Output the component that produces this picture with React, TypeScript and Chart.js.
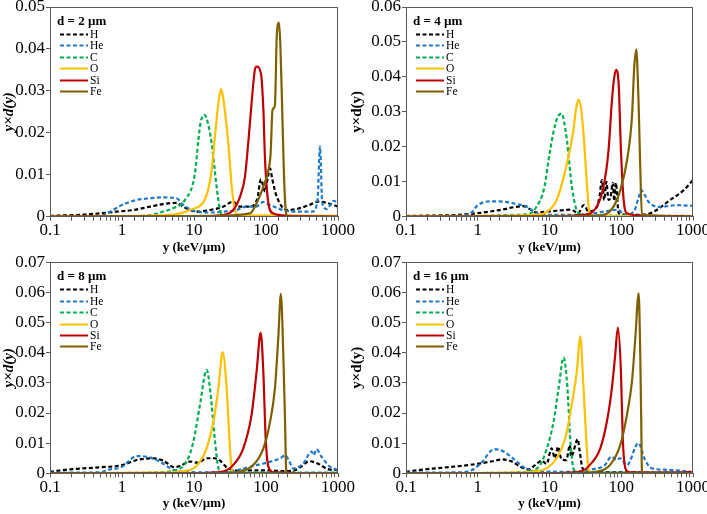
import React, { useEffect, useRef } from 'react';
import { Chart, registerables } from 'chart.js';
Chart.register(...registerables);

type Pt = [number, number];

const SERIES_NAMES = ['H', 'He', 'C', 'O', 'Si', 'Fe'];
const SERIES_COLORS = ['#000000', '#1f78c8', '#00b050', '#ffc000', '#c00000', '#7f6000'];
const SERIES_DASHED = [true, true, true, false, false, false];
const X_TICK_LABELS = ['0.1', '1', '10', '100', '1000'];
const PANEL_TITLES = ['d = 2 µm', 'd = 4 µm', 'd = 8 µm', 'd = 16 µm'];
const PANEL_YMAX = [0.05, 0.06, 0.07, 0.07];

// ---- d = 2 µm ----
const H_2: Pt[] = [[0.1,0.0002],[0.3,0.0005],[0.84,0.0012],[1.44,0.0016],[2.45,0.0024],[3.7,0.003],[5.7,0.0033],[7.1,0.0024],[10.9,0.0012],[16.7,0.0016],[25.5,0.0024],[35,0.0036],[43,0.0024],[59,0.0024],[76,0.0044],[85,0.0089],[97,0.006],[105,0.009],[114,0.0115],[122,0.009],[141,0.0048],[194,0.0016],[264,0.0018],[400,0.0028],[533,0.0036],[700,0.0033],[1000,0.0024]];
const He_2: Pt[] = [[0.1,0],[0.49,0.0002],[0.68,0.0012],[1,0.0028],[1.6,0.004],[2.45,0.0044],[3.7,0.0046],[5.7,0.0044],[7.1,0.0028],[10.9,0.0012],[16.7,0.001],[25.5,0.0012],[39,0.0016],[54,0.0024],[73,0.0024],[91,0.0035],[113,0.0028],[173,0.0016],[264,0.0012],[440,0.0012],[520,0.004],[562,0.0167],[600,0.004],[640,0.0022],[700,0.0018],[860,0.0038],[1000,0.0032]];
const C_2: Pt[] = [[0.1,0],[1,0.0001],[2.45,0.0004],[3.7,0.0012],[5.1,0.002],[7.5,0.004],[10.3,0.0103],[11.5,0.0183],[12.3,0.0223],[14,0.0243],[15.5,0.0225],[17.6,0.0175],[20.6,0.0072],[23,0.0016],[26,0.0003],[100,0.0001],[1000,0.0001]];
const O_2: Pt[] = [[0.1,0],[1,0.0001],[3,0.0003],[5.7,0.0006],[8.8,0.0016],[13.5,0.0035],[15.5,0.006],[17.6,0.0111],[19.5,0.019],[21.8,0.027],[23.7,0.0304],[25,0.029],[26.8,0.0254],[30,0.0175],[33.4,0.0072],[37,0.0016],[42,0.0003],[1000,0.0002]];
const Si_2: Pt[] = [[0.1,0],[10,0.0001],[25,0.0004],[35,0.0016],[43.6,0.0048],[51,0.0095],[56.6,0.0175],[63,0.027],[70,0.035],[74,0.0358],[85,0.0342],[92,0.0254],[97,0.0135],[108,0.0032],[125,0.0008],[200,0.0002],[500,0.0001],[1000,0]];
const Fe_2: Pt[] = [[0.1,0],[20,0.0002],[59.9,0.0008],[74,0.0032],[92,0.0072],[108,0.0111],[116,0.0151],[123,0.0254],[133,0.0266],[141,0.0429],[151.5,0.0463],[158,0.0413],[168,0.0254],[178,0.0095],[188,0.0016],[200,0],[1000,0]];

// ---- d = 4 µm ----
const H_4: Pt[] = [[0.1,0.0002],[0.5,0.0005],[1,0.001],[2,0.0019],[4.3,0.003],[5.5,0.002],[6.5,0.0012],[10,0.0015],[20,0.002],[25,0.001],[30,0.0033],[35,0.0015],[45,0.0025],[50,0.006],[53.7,0.0105],[58,0.0048],[62,0.01],[66.5,0.0048],[71,0.0057],[76,0.0097],[80,0.0045],[84,0.0097],[92,0.001],[150,0.0005],[254,0.001],[483,0.0048],[741,0.0076],[1000,0.0105]];
const He_4: Pt[] = [[0.1,0.0002],[0.5,0.0003],[0.8,0.001],[1,0.0033],[1.5,0.0044],[2.3,0.0043],[3.5,0.0036],[4.8,0.0029],[6.6,0.001],[10,0.0005],[30,0.0006],[59,0.0015],[90,0.002],[112,0.0005],[150,0.0015],[175,0.0055],[190,0.0076],[215,0.006],[240,0.0043],[330,0.0028],[600,0.0033],[1000,0.0031]];
const C_4: Pt[] = [[0.1,0],[1,0.0002],[3,0.0005],[5,0.0008],[6.3,0.0022],[8.6,0.009],[9.5,0.015],[11.3,0.024],[13,0.0285],[14.9,0.0295],[16,0.027],[17.5,0.0219],[20.5,0.0086],[24,0.0019],[30,0.0005],[100,0.0003],[1000,0.0002]];
const O_4: Pt[] = [[0.1,0],[1,0.0002],[6,0.0005],[9.2,0.0014],[12.6,0.0048],[17.1,0.0143],[21.2,0.0238],[23.5,0.031],[25.4,0.0335],[27.5,0.031],[29.8,0.0238],[33.2,0.0095],[36.1,0.001],[40,0.0002],[1000,0.0001]];
const Si_4: Pt[] = [[0.1,0],[10,0.0001],[30,0.0005],[45.7,0.0029],[56.6,0.0086],[66.5,0.019],[74,0.033],[80,0.04],[85,0.042],[92,0.038],[99,0.019],[108,0.0048],[120,0.001],[200,0.0003],[700,0.0002],[1000,0]];
const Fe_4: Pt[] = [[0.1,0],[30,0.0002],[56.6,0.0005],[78,0.0029],[97,0.0076],[120,0.016],[141,0.0286],[152,0.043],[162,0.0478],[174,0.0333],[184,0.0143],[194,0.0005],[1000,0]];

// ---- d = 8 µm ----
const H_8: Pt[] = [[0.1,0.0005],[0.19,0.0013],[0.49,0.002],[1,0.0027],[1.6,0.0044],[2.7,0.005],[3.7,0.0042],[5.4,0.002],[6.5,0.0025],[8.8,0.0039],[11.4,0.0035],[15,0.005],[19.5,0.005],[23,0.0042],[28.4,0.002],[39,0.0009],[100,0.001],[180,0.0007],[250,0.001],[300,0.002],[400,0.004],[550,0.003],[700,0.0015],[1000,0.001]];
const He_8: Pt[] = [[0.1,0.0002],[0.5,0.0003],[0.61,0.001],[1,0.0022],[1.6,0.0057],[2.2,0.0055],[3.4,0.0038],[5,0.0013],[7.1,0.0005],[20,0.0003],[39,0.001],[73,0.0027],[113,0.0038],[158,0.005],[185,0.006],[210,0.004],[240,0.0016],[330,0.0033],[430,0.0072],[460,0.006],[500,0.008],[590,0.0055],[770,0.0022],[1000,0.0011]];
const C_8: Pt[] = [[0.1,0],[1,0.0001],[3,0.0003],[5.7,0.0011],[7.9,0.0039],[9.8,0.0105],[12.1,0.0227],[15,0.0343],[17.6,0.0227],[19.6,0.0105],[21.8,0.0017],[24,0.0003],[1000,0.0002]];
const O_8: Pt[] = [[0.1,0],[3,0.0002],[8.8,0.0011],[12.1,0.0039],[15,0.0083],[18.6,0.0171],[21.8,0.0282],[25,0.0402],[28.4,0.0282],[31,0.0116],[33.4,0.0011],[36,0],[1000,0]];
const Si_8: Pt[] = [[0.1,0],[10,0.0001],[25,0.0006],[35.2,0.0028],[48.4,0.0083],[63,0.0194],[74,0.0337],[84.4,0.0467],[91.8,0.0337],[99,0.0116],[108,0.0022],[126,0.0003],[1000,0]];
const Fe_8: Pt[] = [[0.1,0],[20,0.0001],[44,0.0006],[67,0.0028],[92,0.0083],[114,0.0171],[133,0.0282],[148,0.0448],[161,0.0595],[174,0.0393],[184,0.0171],[190,0.0017],[196,0],[1000,0]];

// ---- d = 16 µm ----
const H_16: Pt[] = [[0.1,0.0005],[0.18,0.0013],[0.28,0.0017],[0.97,0.0031],[1.6,0.004],[2.2,0.0046],[3,0.0039],[3.9,0.0022],[5.1,0.0013],[6.3,0.0027],[7.8,0.0042],[9.1,0.0031],[10.7,0.0083],[11.9,0.005],[13.2,0.0088],[14.7,0.0046],[17.2,0.0044],[19.2,0.0094],[20,0.0055],[24.8,0.0113],[26,0.0083],[29,0.0016],[35,0.0005],[100,0.0003],[1000,0.0002]];
const He_16: Pt[] = [[0.1,0.0002],[0.5,0.0003],[0.82,0.001],[1.1,0.0033],[1.7,0.008],[2.3,0.0072],[3.3,0.0044],[4.6,0.0017],[6.3,0.0007],[20,0.0005],[39,0.0013],[59,0.0027],[73,0.0055],[86,0.0044],[96,0.005],[120,0.0027],[173,0.01],[215,0.0044],[265,0.0017],[400,0.0012],[700,0.0008],[1000,0.0003]];
const C_16: Pt[] = [[0.1,0],[1,0.0001],[5.4,0.0006],[7.4,0.0028],[9.2,0.0083],[11.4,0.0171],[13.4,0.0282],[15.7,0.0384],[17.8,0.0282],[19.4,0.0116],[21.5,0.0017],[24,0.0003],[1000,0.0002]];
const O_16: Pt[] = [[0.1,0],[3,0.0002],[6,0.0006],[9.2,0.0017],[12.6,0.005],[16.6,0.0116],[20.4,0.0227],[24,0.0337],[26.8,0.0454],[29.8,0.0282],[32.5,0.0116],[35,0.0011],[38,0],[1000,0]];
const Si_16: Pt[] = [[0.1,0],[10,0.0001],[26.8,0.0006],[36.6,0.0028],[51,0.0083],[63,0.0171],[74,0.0282],[82.4,0.0393],[89.7,0.0483],[99,0.0337],[105,0.0116],[114,0.0017],[130,0.0003],[700,0.0002],[900,0.0005],[1000,0]];
const Fe_16: Pt[] = [[0.1,0],[20,0.0001],[45.7,0.0006],[70,0.0028],[97,0.0094],[120,0.0194],[141,0.0304],[157,0.0448],[175,0.0597],[184,0.0393],[190,0.0171],[194,0.0011],[200,0],[1000,0]];

const PANEL_SERIES: Pt[][][] = [
  [H_2, He_2, C_2, O_2, Si_2, Fe_2],
  [H_4, He_4, C_4, O_4, Si_4, Fe_4],
  [H_8, He_8, C_8, O_8, Si_8, Fe_8],
  [H_16, He_16, C_16, O_16, Si_16, Fe_16],
];

const FONT = '"Liberation Serif", "Times New Roman", serif';

// canvases overlap slightly (transparent) so that edge tick labels are not clipped
const LAYOUT = [
  { left: 0, top: 0, w: 362, h: 255, yw: 50, padTop: 7, padRight: 24, xh: 38.3, yTitlePad: 0, xTitlePad: 0, yItalic: true },
  { left: 345, top: 0, w: 362, h: 255, yw: 61, padTop: 7, padRight: 14, xh: 38.3, yTitlePad: 3, xTitlePad: 0, yItalic: false },
  { left: 0, top: 255, w: 362, h: 259, yw: 50, padTop: 7.3, padRight: 24, xh: 40.7, yTitlePad: 0, xTitlePad: 3, yItalic: true },
  { left: 345, top: 255, w: 362, h: 259, yw: 61, padTop: 7.3, padRight: 14, xh: 40.7, yTitlePad: 3, xTitlePad: 3, yItalic: false },
];

const framePlugin = {
  id: 'frame',
  afterDatasetsDraw(chart: any) {
    const { ctx, chartArea } = chart;
    ctx.save();
    ctx.strokeStyle = '#595959';
    ctx.lineWidth = 1;
    const l = Math.round(chartArea.left) + 0.5;
    const t = Math.round(chartArea.top) + 0.5;
    const r = Math.round(chartArea.right) - 0.5;
    const b = Math.round(chartArea.bottom) - 0.5;
    ctx.strokeRect(l, t, r - l, b - t);
    ctx.restore();
  },
};

const insideLegendPlugin = {
  id: 'insideLegend',
  afterDatasetsDraw(chart: any, _args: any, opts: any) {
    const { ctx, chartArea } = chart;
    const x0 = chartArea.left;
    const y0 = chartArea.top;
    ctx.save();
    ctx.fillStyle = '#000';
    ctx.textBaseline = 'middle';
    ctx.textAlign = 'left';
    ctx.font = `bold 13px ${FONT}`;
    ctx.fillText(opts.title, x0 + 7, y0 + 14.5);
    ctx.font = `11.5px ${FONT}`;
    chart.data.datasets.forEach((ds: any, i: number) => {
      const y = Math.round(y0 + 27 + i * 11.4) + 0.5;
      ctx.strokeStyle = ds.borderColor;
      ctx.lineWidth = 2;
      ctx.setLineDash(ds.borderDash || []);
      ctx.beginPath();
      ctx.moveTo(x0 + 10, y);
      ctx.lineTo(x0 + 38, y);
      ctx.stroke();
      ctx.setLineDash([]);
      ctx.fillText(ds.label, x0 + 40, y);
    });
    ctx.restore();
  },
};

function Panel({ idx }: { idx: number }) {
  const ref = useRef<HTMLCanvasElement>(null);
  const L = LAYOUT[idx];
  useEffect(() => {
    const datasets = PANEL_SERIES[idx].map((pts, i) => ({
      label: SERIES_NAMES[i],
      data: pts.map(([x, y]) => ({ x, y })),
      borderColor: SERIES_COLORS[i],
      backgroundColor: SERIES_COLORS[i],
      borderWidth: 2.2,
      borderDash: SERIES_DASHED[i] ? [4, 2.5] : [],
      pointRadius: 0,
      fill: false,
      cubicInterpolationMode: 'monotone' as const,
      order: SERIES_NAMES.length - i,
    }));
    const ymax = PANEL_YMAX[idx];
    const chart = new Chart(ref.current!, {
      type: 'line',
      data: { datasets },
      plugins: [framePlugin, insideLegendPlugin],
      options: {
        animation: false,
        responsive: false,
        events: [],
        layout: { padding: { top: L.padTop, right: L.padRight, left: 0, bottom: 0 } },
        plugins: {
          legend: { display: false },
          tooltip: { enabled: false },
          insideLegend: { title: PANEL_TITLES[idx] },
        } as any,
        scales: {
          x: {
            type: 'logarithmic',
            min: 0.1,
            max: 1000,
            afterFit: (s: any) => { s.height = L.xh; s.paddingLeft = 0; s.paddingRight = 0; },
            grid: { drawOnChartArea: false, drawTicks: true, tickLength: 4, color: '#595959' },
            border: { display: true, color: '#595959' },
            ticks: {
              autoSkip: false,
              maxRotation: 0,
              padding: 0,
              color: '#000',
              font: { family: FONT, size: 17 },
              callback: (v: any) => {
                const l = Math.log10(Number(v));
                return Math.abs(l - Math.round(l)) < 1e-6 ? X_TICK_LABELS[Math.round(l) + 1] : '';
              },
            },
            title: {
              display: true,
              text: 'y (keV/µm)',
              color: '#000',
              font: { family: FONT, size: 13, weight: 'bold' },
              padding: { top: 0, bottom: L.xTitlePad },
            },
          },
          y: {
            type: 'linear',
            min: 0,
            max: ymax,
            afterFit: (s: any) => { s.width = L.yw; s.paddingTop = 0; s.paddingBottom = 0; },
            grid: { drawOnChartArea: false, drawTicks: true, tickLength: 4, color: '#595959' },
            border: { display: true, color: '#595959' },
            ticks: {
              stepSize: 0.01,
              padding: 1,
              color: '#000',
              font: { family: FONT, size: 17 },
              callback: (v: any) => String(Math.round(Number(v) * 100) / 100),
            },
            title: {
              display: true,
              text: 'y×d(y)',
              color: '#000',
              font: { family: FONT, size: 15, weight: 'bold', style: L.yItalic ? 'italic' : 'normal' },
              padding: { top: L.yTitlePad, bottom: 0 },
            },
          },
        },
      } as any,
    });
    return () => chart.destroy();
  }, []);
  return (
    <canvas
      ref={ref}
      width={L.w}
      height={L.h}
      style={{ position: 'absolute', left: L.left, top: L.top, width: L.w, height: L.h }}
    />
  );
}

export default function App() {
  return (
    <div style={{ position: 'absolute', left: 0, top: 0, width: 707, height: 514, background: '#fff' }}>
      {[0, 1, 2, 3].map((i) => (
        <Panel key={i} idx={i} />
      ))}
    </div>
  );
}
